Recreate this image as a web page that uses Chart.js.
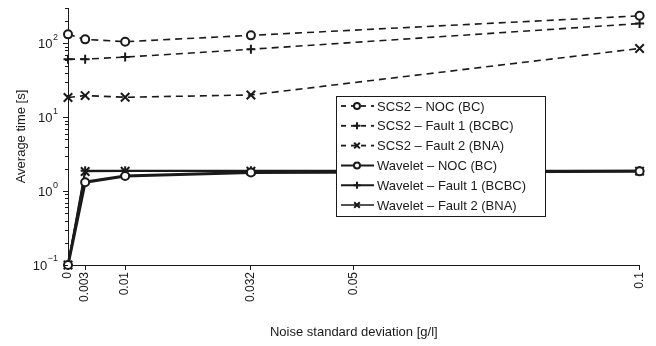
<!DOCTYPE html>
<html lang="en">
<head>
    <meta charset="UTF-8">
    <title>Average time vs noise</title>
    <style>
        html, body { margin: 0; padding: 0; background: #fff; }
        #wrap { width: 656px; height: 346px; }
    </style>
</head>
<body>
    <div id="wrap"><canvas id="myChart"></canvas></div>
    <script src="https://cdn.jsdelivr.net/npm/chart.js"></script>
    <script>
        // noise levels (x) and tick positions
        const noise = [0, 0.003, 0.01, 0.032, 0.1];
        const xTicks = [0, 0.003, 0.01, 0.032, 0.05, 0.1];
        const yDecades = [0.1, 1, 10, 100];

        // average times [s]
        const scsNoc = [132, 113, 105, 128, 235];
        const scsFault1 = [61, 61, 65, 83, 185];
        const scsFault2 = [18.5, 19.6, 18.6, 20, 85];
        const wavNoc = [0.1, 1.32, 1.6, 1.78, 1.85];
        const wavFault1 = [0.1, 1.88, 1.88, 1.88, 1.88];
        const wavFault2 = [0.1, 1.84, 1.86, 1.86, 1.86];

        const labels = [
            "SCS2 \u2013 NOC (BC)",
            "SCS2 \u2013 Fault 1 (BCBC)",
            "SCS2 \u2013 Fault 2 (BNA)",
            "Wavelet \u2013 NOC (BC)",
            "Wavelet \u2013 Fault 1 (BCBC)",
            "Wavelet \u2013 Fault 2 (BNA)"
        ];

        const FONT = "'Liberation Sans', Arial, Helvetica, sans-serif";

        function pts(vals) {
            return vals.map((v, i) => ({ x: noise[i], y: v }));
        }

        function ds(label, vals, style, dashed, width) {
            return {
                label: label,
                data: pts(vals),
                clip: false,
                borderColor: "#1a1a1a",
                borderWidth: width,
                borderDash: dashed ? [7, 5] : [],
                pointStyle: style,
                pointRadius: style === "circle" ? 4 : (style === "cross" ? 4.5 : 6),
                pointBorderWidth: 2,
                pointBorderColor: "#1a1a1a",
                pointBackgroundColor: "#fff",
                tension: 0,
                fill: false
            };
        }

        const v_datasets = [
            ds(labels[0], scsNoc, "circle", true, 1.6),
            ds(labels[1], scsFault1, "cross", true, 1.6),
            ds(labels[2], scsFault2, "crossRot", true, 1.6),
            ds(labels[3], wavNoc, "circle", false, 3),
            ds(labels[4], wavFault1, "cross", false, 2),
            ds(labels[5], wavFault2, "crossRot", false, 1.6)
        ];

        function drawMarker(ctx, style, x, y, r) {
            ctx.beginPath();
            if (style === "circle") {
                ctx.arc(x, y, r, 0, Math.PI * 2);
                ctx.fillStyle = "#fff";
                ctx.fill();
                ctx.stroke();
                return;
            }
            if (style === "cross") {
                ctx.moveTo(x - r, y); ctx.lineTo(x + r, y);
                ctx.moveTo(x, y - r); ctx.lineTo(x, y + r);
            } else {
                const d = r * 0.8;
                ctx.moveTo(x - d, y - d); ctx.lineTo(x + d, y + d);
                ctx.moveTo(x - d, y + d); ctx.lineTo(x + d, y - d);
            }
            ctx.stroke();
        }

        // y ticks with exponent labels + legend box inside the plot
        const extras = {
            id: "extras",
            afterDraw(chart) {
                const ctx = chart.ctx;
                const ys = chart.scales.y;
                const left = chart.chartArea.left;
                ctx.save();
                ctx.strokeStyle = "#1a1a1a";
                ctx.lineWidth = 1;
                for (let d = 0; d < yDecades.length; d++) {
                    for (let m = 1; m <= 9; m++) {
                        const v = yDecades[d] * m;
                        if (v > ys.max + 1e-9) break;
                        const py = Math.round(ys.getPixelForValue(v)) + 0.5;
                        const len = m === 1 ? 5 : 3;
                        ctx.beginPath();
                        ctx.moveTo(left - len, py);
                        ctx.lineTo(left, py);
                        ctx.stroke();
                    }
                }
                ctx.fillStyle = "#1a1a1a";
                ctx.textBaseline = "middle";
                ctx.textAlign = "right";
                yDecades.forEach(v => {
                    const py = ys.getPixelForValue(v);
                    const e = Math.round(Math.log10(v));
                    const eTxt = e < 0 ? "\u2212" + (-e) : String(e);
                    ctx.font = "9px " + FONT;
                    const ew = ctx.measureText(eTxt).width;
                    ctx.fillText(eTxt, 58, py - 6);
                    ctx.font = "13px " + FONT;
                    ctx.fillText("10", 58 - ew - 0.5, py + 1);
                });

                // legend
                const bx = 336, by = 96, bw = 209, bh = 120;
                ctx.fillStyle = "#fff";
                ctx.fillRect(bx, by, bw, bh);
                ctx.strokeRect(bx + 0.5, by + 0.5, bw, bh);
                ctx.textAlign = "left";
                ctx.font = "13px " + FONT;
                chart.data.datasets.forEach((d, i) => {
                    const cy = by + 10 + i * 19.8;
                    ctx.strokeStyle = "#1a1a1a";
                    ctx.lineWidth = d.borderDash.length ? 1.8 : Math.min(d.borderWidth, 2);
                    ctx.setLineDash(d.borderDash.length ? [5, 5] : []);
                    ctx.beginPath();
                    ctx.moveTo(341, cy);
                    ctx.lineTo(374, cy);
                    ctx.stroke();
                    ctx.setLineDash([]);
                    ctx.lineWidth = 2;
                    drawMarker(ctx, d.pointStyle, 357, cy, d.pointStyle === "circle" ? 3 : 3.5);
                    ctx.fillStyle = "#1a1a1a";
                    ctx.fillText(d.label, 377, cy + 1);
                });
                ctx.restore();
            }
        };

        const ctx = document.getElementById("myChart");

        new Chart(ctx, {
            type: "line",
            data: { datasets: v_datasets },
            plugins: [extras],
            options: {
                responsive: true,
                maintainAspectRatio: false,
                animation: false,
                layout: { padding: { left: 0, top: 6, right: 15, bottom: 0 } },
                plugins: {
                    legend: { display: false },
                    tooltip: { enabled: false }
                },
                scales: {
                    x: {
                        type: "linear",
                        min: 0,
                        max: 0.1,
                        afterBuildTicks: s => { s.ticks = xTicks.map(v => ({ value: v })); },
                        afterFit: s => { s.height = 81; },
                        ticks: {
                            autoSkip: false,
                            minRotation: 90,
                            maxRotation: 90,
                            padding: 2,
                            color: "#1a1a1a",
                            font: { family: FONT, size: 12 },
                            callback: v => String(v)
                        },
                        grid: { display: true, drawOnChartArea: false, tickLength: 5, color: "#1a1a1a" },
                        border: { display: true, color: "#1a1a1a", width: 1 },
                        title: {
                            display: true,
                            text: "Noise standard deviation [g/l]",
                            color: "#1a1a1a",
                            font: { family: FONT, size: 13 },
                            padding: { top: 0, bottom: 6 }
                        }
                    },
                    y: {
                        type: "logarithmic",
                        min: 0.1,
                        max: 300,
                        afterFit: s => { s.width = 68; },
                        ticks: { display: false },
                        grid: { display: true, drawOnChartArea: false, drawTicks: false },
                        border: { display: true, color: "#1a1a1a", width: 1 },
                        title: {
                            display: true,
                            text: "Average time [s]",
                            color: "#1a1a1a",
                            font: { family: FONT, size: 13 },
                            padding: { top: 14, bottom: 0 }
                        }
                    }
                }
            }
        });
    </script>
</body>
</html>
